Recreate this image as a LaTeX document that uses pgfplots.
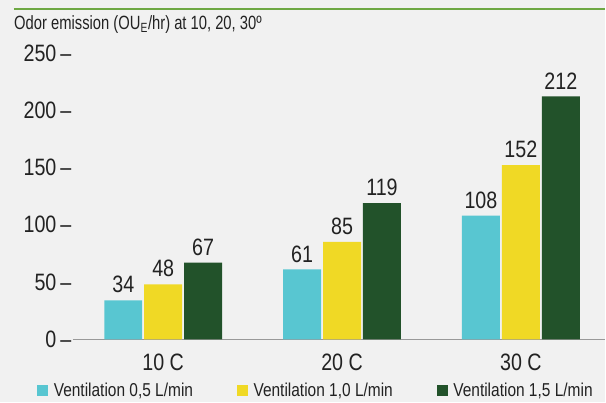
\documentclass[border=0pt]{standalone}
\usepackage{fontspec}
\setmainfont{Liberation Sans}[FakeStretch=0.77]
\newfontfamily\numfont{Liberation Sans}[FakeStretch=0.83]
\usepackage{pgfplots}
\pgfplotsset{compat=1.18}
\definecolor{bg}{HTML}{F1F1F1}
\definecolor{cyanbar}{HTML}{58C6D1}
\definecolor{yelbar}{HTML}{F0D925}
\definecolor{grnbar}{HTML}{22522A}
\definecolor{topline}{HTML}{6EA843}
\definecolor{txt}{HTML}{222222}
\definecolor{axisgray}{HTML}{999999}
\begin{document}
\begin{tikzpicture}[x=0.75pt,y=0.75pt]
\fill[bg] (0,0) rectangle (606,403);
\draw[topline, line width=1.6pt] (14,394) -- (606,394);
\node[anchor=base west, inner sep=0pt, text=txt, font=\fontsize{14.4}{16}\selectfont] at (14,373) {Odor emission (OU\textsubscript{E}/hr) at 10, 20, 30º};
\begin{axis}[
  at={(54.75pt,47.25pt)}, anchor=south west,
  scale only axis,
  width=399.75pt, height=215.25pt,
  xmin=-0.505, xmax=2.47, ymin=0, ymax=250,
  enlargelimits=false,
  clip=false,
  axis x line*=bottom, axis y line*=left,
  y axis line style={draw=none},
  x axis line style={draw=axisgray, line width=1pt},
  major tick length=0pt,
  /pgf/number format/assume math mode=true,
  ytick={0,50,100,150,200,250},
  yticklabel={\pgfmathprintnumber{\tick}\,–},
  yticklabel style={font=\numfont\fontsize{17.8}{20}\selectfont, text=txt, inner sep=0pt, anchor=east, xshift=-1pt},
  xtick={0,1,2},
  xticklabels={10 C,20 C,30 C},
  xticklabel style={font=\numfont\fontsize{17.8}{20}\selectfont, text=txt, inner sep=0pt, anchor=north, yshift=-10.5pt},
  ybar=1.5pt,
  bar width=28.5pt,
  nodes near coords,
  nodes near coords style={font=\numfont\fontsize{17.8}{20}\selectfont, text=txt, inner sep=0pt, anchor=south, yshift=5.25pt},
  legend columns=3,
  legend style={at={(-0.0675,-0.178)}, anchor=west, draw=none, fill=none, inner sep=0pt,
    font=\numfont\fontsize{14}{16}\selectfont, text=txt,
    /tikz/every odd column/.append style={column sep=2.25pt},
    /tikz/every even column/.append style={column sep=31pt}},
  legend image code/.code={\fill[#1] (0pt,-4.1pt) rectangle (8.2pt,4.1pt);},
]
\addplot[fill=cyanbar, draw=none] coordinates {(0,34) (1,61) (2,108)};
\addplot[fill=yelbar, draw=none] coordinates {(0,48) (1,85) (2,152)};
\addplot[fill=grnbar, draw=none] coordinates {(0,67) (1,119) (2,212)};
\legend{{Ventilation 0,5 L/min}, {Ventilation 1,0 L/min}, {Ventilation 1,5 L/min}}
\end{axis}
\end{tikzpicture}
\end{document}
